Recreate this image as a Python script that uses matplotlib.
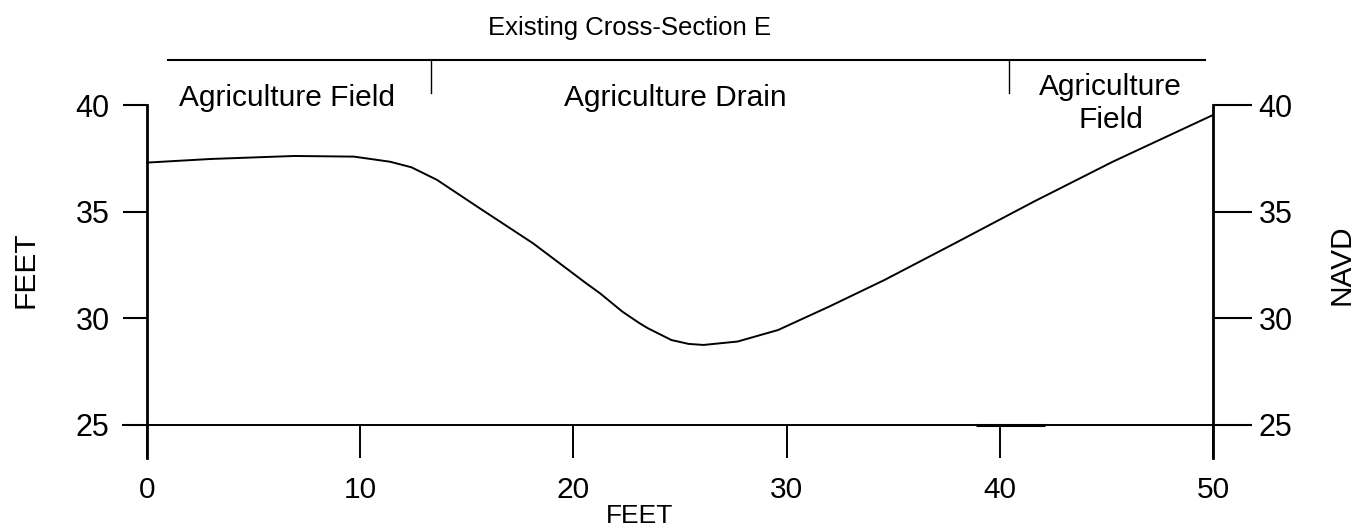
import numpy as np
import matplotlib.pyplot as plt

plt.rcParams['font.family'] = ['Liberation Sans', 'DejaVu Sans']

# ground profile (station ft, elevation ft NAVD)
station = [0, 3.0, 6.9, 9.7, 11.4, 12.4, 13.6, 15.6, 18.1, 20.6, 21.25,
           22.3, 23.1, 23.5, 24.6, 25.4, 26.1, 27.7, 29.6, 32.0, 34.6,
           37.9, 41.6, 45.3, 50.0]
elevation = [37.30, 37.47, 37.61, 37.58, 37.34, 37.08, 36.49, 35.16, 33.52,
             31.64, 31.17, 30.31, 29.77, 29.53, 28.98, 28.80, 28.75, 28.91,
             29.45, 30.55, 31.80, 33.52, 35.47, 37.34, 39.53]

x_ticks = [0, 10, 20, 30, 40, 50]
y_ticks = [25, 30, 35, 40]

# zone bracket above the section
zone_edges = [0.98, 13.32, 40.43, 49.62]
zone_names = ['Agriculture Field', 'Agriculture Drain', 'Agriculture\nField']
zone_centers = [6.57, 24.77, 45.2]

W, H = 1359, 531
fig = plt.figure(figsize=(W / 100, H / 100), dpi=100)
ax = fig.add_axes([123 / W, (H - 458) / H, (1250 - 123) / W, (458 - 105) / H])

ax.set_xlim(-1.13, 51.74)
ax.set_ylim(23.45, 40.0)

ax.plot(station, elevation, color='black', lw=1.4, clip_on=False,
        solid_joinstyle='round')

# spines
ax.spines['top'].set_visible(False)
ax.spines['right'].set_visible(False)
ax.spines['left'].set_position(('data', 0))
ax.spines['left'].set_linewidth(2.0)
ax.spines['bottom'].set_position(('data', 25))
ax.spines['bottom'].set_linewidth(1.4)

ax.set_xticks(x_ticks)
ax.set_xticklabels([str(v) for v in x_ticks])
ax.tick_params(axis='x', direction='out', length=24, width=1.4, pad=13,
               labelsize=21.5)
ax.set_yticks(y_ticks)
ax.set_yticklabels([str(v) for v in y_ticks])
ax.tick_params(axis='y', direction='out', length=17, width=1.5, pad=10,
               labelsize=22)

# short heavier stretch on the baseline near station 40
ax.plot([38.9, 42.1], [25, 25], color='black', lw=2.2, solid_capstyle='butt')

ax2 = ax.twinx()
ax2.set_ylim(ax.get_ylim())
for s in ['top', 'left', 'bottom']:
    ax2.spines[s].set_visible(False)
ax2.spines['right'].set_position(('data', 50))
ax2.spines['right'].set_linewidth(2.0)
ax2.set_yticks(y_ticks)
ax2.set_yticklabels([str(v) for v in y_ticks])
ax2.tick_params(axis='y', direction='out', length=28, width=1.5, pad=5,
                labelsize=22)

# bracket with zone labels
top_y, drop_y = 42.11, 40.56
ax.plot([zone_edges[0], zone_edges[-1]], [top_y, top_y], color='black',
        lw=1.5, clip_on=False)
for xe in zone_edges[1:-1]:
    ax.plot([xe, xe], [top_y, drop_y], color='black', lw=1.0, clip_on=False)

ax.text(zone_centers[0], 39.95, zone_names[0], ha='center', va='baseline',
        fontsize=21.5)
ax.text(zone_centers[1], 39.95, zone_names[1], ha='center', va='baseline',
        fontsize=21.5)
line1, line2 = zone_names[2].split('\n')
ax.text(zone_centers[2], 40.47, line1, ha='center', va='baseline',
        fontsize=21.5)
ax.text(zone_centers[2], 38.92, line2, ha='center', va='baseline',
        fontsize=21.5)

fig.text(629 / W, (H - 35) / H, 'Existing Cross-Section E', ha='center',
         va='baseline', fontsize=18.5)
fig.text(640 / W, 3 / H, 'FEET', ha='center', va='bottom', fontsize=19)
fig.text(26 / W, (H - 270) / H, 'FEET', ha='center', va='center',
         rotation=90, fontsize=21.5)
fig.text(1342 / W, (H - 265) / H, 'NAVD', ha='center', va='center',
         rotation=90, fontsize=21.5)

fig.savefig('out.png', dpi=100)
